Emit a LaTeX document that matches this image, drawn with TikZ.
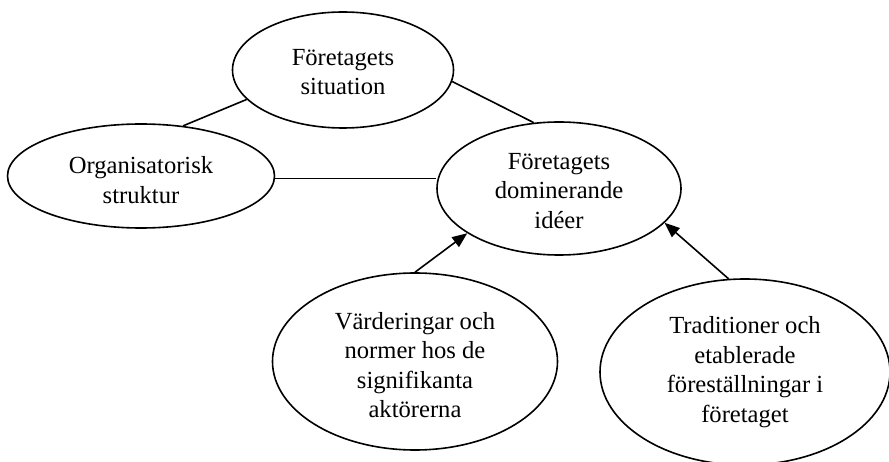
\documentclass[tikz,border=0pt]{standalone}
\usepackage{fontspec}
\setmainfont{Liberation Serif}
\usetikzlibrary{shapes.geometric,arrows.meta}
\begin{document}
\begin{tikzpicture}[x=1pt,y=-1pt,
  ell/.style={draw,ellipse,line width=1.6pt,inner sep=0pt},
  txt/.style={align=center,inner sep=0pt,font=\fontsize{24.6}{29.5}\selectfont},
  conn/.style={line width=1.6pt},
  arr/.style={line width=1.6pt,-{Triangle[length=15pt,width=12pt]}}]
\useasboundingbox (0,0) rectangle (889,462);
\node[ell,minimum width=221pt,minimum height=116pt] (e1) at (343,70) {};
\node[txt] (t1) at (343,72) {Företagets\\situation};
\node[ell,minimum width=267pt,minimum height=104pt] (e2) at (141,176) {};
\node[txt] (t2) at (141,180) {Organisatorisk\\struktur};
\node[ell,minimum width=244pt,minimum height=133pt] (e3) at (559,188.5) {};
\node[txt] (t3) at (559,191) {Företagets\\dominerande\\idéer};
\node[ell,minimum width=285pt,minimum height=177pt] (e4) at (415,361.5) {};
\node[txt] (t4) at (415,365) {Värderingar och\\normer hos de\\signifikanta\\aktörerna};
\node[ell,minimum width=290pt,minimum height=186pt] (e5) at (745,372) {};
\node[txt] (t5) at (745,372) {Traditioner och\\etablerade\\föreställningar i\\företaget};
\draw[conn] (e2.50) -- (e1.197);
\draw[conn] (e1.-6) -- (e3.111.5);
\draw[conn] (e2.-1.7) -- (e2.-1.7 -| e3.west);
\draw[arr] (e4.north) -- (e3.206);
\draw[arr] (e5.100) -- (e3.-18);
\end{tikzpicture}
\end{document}
